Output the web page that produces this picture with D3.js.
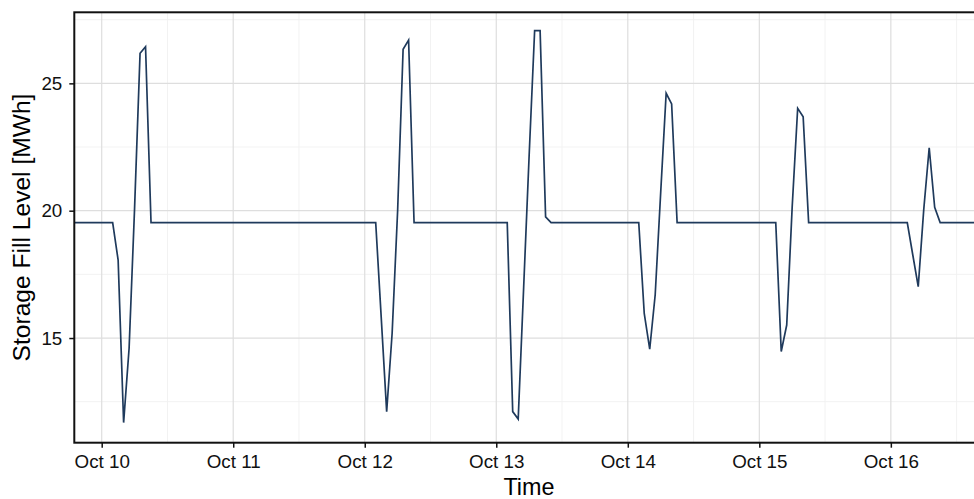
<!DOCTYPE html>
<html>
<head>
<meta charset="utf-8">
<script src="https://cdn.jsdelivr.net/npm/d3@7"></script>
<style>
  body { margin: 0; background: #fff; }
  svg { display: block; }
  text { font-family: "Liberation Sans", Arial, Helvetica, sans-serif; }
</style>
</head>
<body>
<svg id="chart" width="974" height="499"></svg>
<script>
// Hourly storage fill level, listed at the hours where the level changes
const timestamps = [
  "2021-10-09 18:00",
  "2021-10-10 02:00", "2021-10-10 03:00", "2021-10-10 04:00", "2021-10-10 05:00",
  "2021-10-10 06:00", "2021-10-10 07:00", "2021-10-10 08:00", "2021-10-10 09:00",
  "2021-10-12 02:00", "2021-10-12 03:00", "2021-10-12 04:00", "2021-10-12 05:00",
  "2021-10-12 06:00", "2021-10-12 07:00", "2021-10-12 08:00", "2021-10-12 09:00",
  "2021-10-13 02:00", "2021-10-13 03:00", "2021-10-13 04:00", "2021-10-13 05:00",
  "2021-10-13 06:00", "2021-10-13 07:00", "2021-10-13 08:00", "2021-10-13 09:00",
  "2021-10-13 10:00",
  "2021-10-14 02:00", "2021-10-14 03:00", "2021-10-14 04:00", "2021-10-14 05:00",
  "2021-10-14 06:00", "2021-10-14 07:00", "2021-10-14 08:00", "2021-10-14 09:00",
  "2021-10-15 03:00", "2021-10-15 04:00", "2021-10-15 05:00", "2021-10-15 06:00",
  "2021-10-15 07:00", "2021-10-15 08:00", "2021-10-15 09:00",
  "2021-10-16 03:00", "2021-10-16 04:00", "2021-10-16 05:00", "2021-10-16 06:00",
  "2021-10-16 07:00", "2021-10-16 08:00", "2021-10-16 09:00",
  "2021-10-16 18:00"
];
const fillLevel = [
  19.53,
  19.53, 18.06, 11.68, 14.60, 20.10, 26.18, 26.44, 19.53,
  19.53, 15.83, 12.11, 15.20, 20.00, 26.34, 26.70, 19.53,
  19.53, 12.11, 11.82, 17.00, 22.18, 27.07, 27.07, 19.76,
  19.53,
  19.53, 15.97, 14.56, 16.70, 20.70, 24.61, 24.19, 19.53,
  19.53, 14.47, 15.51, 20.16, 24.02, 23.69, 19.53,
  19.53, 18.27, 17.02, 20.03, 22.47, 20.13, 19.53,
  19.53
];

const dayTicks = ["2021-10-10", "2021-10-11", "2021-10-12", "2021-10-13",
                  "2021-10-14", "2021-10-15", "2021-10-16"];
const dayLabels = ["Oct 10", "Oct 11", "Oct 12", "Oct 13", "Oct 14", "Oct 15", "Oct 16"];
const levelTicks = [15, 20, 25];
const levelMinorTicks = [12.5, 17.5, 22.5, 27.5];

const timeRange = ["2021-10-09 19:00", "2021-10-16 17:00"];
const levelRange = [10.89, 27.79];

const parseTime = d3.timeParse("%Y-%m-%d %H:%M");
const parseDay = d3.timeParse("%Y-%m-%d");

const data = timestamps.map((t, i) => ({ t: parseTime(t), v: fillLevel[i] }));
const dayDates = dayTicks.map(parseDay);
const noonDates = dayDates.map(d => d3.timeHour.offset(d, 12));

const svg = d3.select("#chart");
const panel = { left: 74.3, top: 12.3, right: 984, bottom: 442.7 };

const x = d3.scaleTime()
  .domain(timeRange.map(parseTime))
  .range([panel.left, panel.right]);
const y = d3.scaleLinear()
  .domain(levelRange)
  .range([panel.bottom, panel.top]);

svg.append("clipPath").attr("id", "panel-clip")
  .append("rect")
  .attr("x", panel.left).attr("y", panel.top)
  .attr("width", panel.right - panel.left)
  .attr("height", panel.bottom - panel.top);

// grid
const grid = svg.append("g");
grid.selectAll("line.ymin").data(levelMinorTicks).join("line")
  .attr("x1", panel.left).attr("x2", panel.right)
  .attr("y1", d => y(d)).attr("y2", d => y(d))
  .attr("stroke", "#f1f1f1").attr("stroke-width", 0.9);
grid.selectAll("line.xmin").data(noonDates).join("line")
  .attr("y1", panel.top).attr("y2", panel.bottom)
  .attr("x1", d => x(d)).attr("x2", d => x(d))
  .attr("stroke", "#f1f1f1").attr("stroke-width", 0.9);
grid.selectAll("line.ymaj").data(levelTicks).join("line")
  .attr("x1", panel.left).attr("x2", panel.right)
  .attr("y1", d => y(d)).attr("y2", d => y(d))
  .attr("stroke", "#dedede").attr("stroke-width", 1.2);
grid.selectAll("line.xmaj").data(dayDates).join("line")
  .attr("y1", panel.top).attr("y2", panel.bottom)
  .attr("x1", d => x(d)).attr("x2", d => x(d))
  .attr("stroke", "#dedede").attr("stroke-width", 1.2);

// fill level line
const line = d3.line().x(d => x(d.t)).y(d => y(d.v));
svg.append("path")
  .datum(data)
  .attr("clip-path", "url(#panel-clip)")
  .attr("fill", "none")
  .attr("stroke", "#1f3a5c")
  .attr("stroke-width", 1.7)
  .attr("stroke-linejoin", "miter")
  .attr("d", line);

// panel border
svg.append("rect")
  .attr("x", panel.left).attr("y", panel.top)
  .attr("width", panel.right - panel.left)
  .attr("height", panel.bottom - panel.top)
  .attr("fill", "none").attr("stroke", "#111").attr("stroke-width", 2);

// axes
const xAxis = d3.axisBottom(x)
  .tickValues(dayDates)
  .tickFormat((d, i) => dayLabels[i])
  .tickSize(5).tickPadding(7.3);
const gx = svg.append("g")
  .attr("transform", `translate(0,${panel.bottom})`)
  .call(xAxis);
gx.select(".domain").remove();
gx.selectAll("line").attr("stroke", "#111").attr("stroke-width", 1.5);
gx.selectAll("text").attr("font-size", 18.8).attr("fill", "#111")
  .attr("font-family", "'Liberation Sans', Arial, sans-serif");

const yAxis = d3.axisLeft(y)
  .tickValues(levelTicks)
  .tickSize(5).tickPadding(7);
const gy = svg.append("g")
  .attr("transform", `translate(${panel.left},0)`)
  .call(yAxis);
gy.select(".domain").remove();
gy.selectAll("line").attr("stroke", "#111").attr("stroke-width", 1.5);
gy.selectAll("text").attr("font-size", 18.8).attr("fill", "#111")
  .attr("font-family", "'Liberation Sans', Arial, sans-serif");

// titles
svg.append("text")
  .attr("x", 529).attr("y", 494.5)
  .attr("text-anchor", "middle")
  .attr("font-size", 23.4).attr("fill", "#000")
  .text("Time");
svg.append("text")
  .attr("transform", `translate(30,${(panel.top + panel.bottom) / 2}) rotate(-90)`)
  .attr("text-anchor", "middle")
  .attr("font-size", 24.6).attr("fill", "#000")
  .text("Storage Fill Level [MWh]");
</script>
</body>
</html>
